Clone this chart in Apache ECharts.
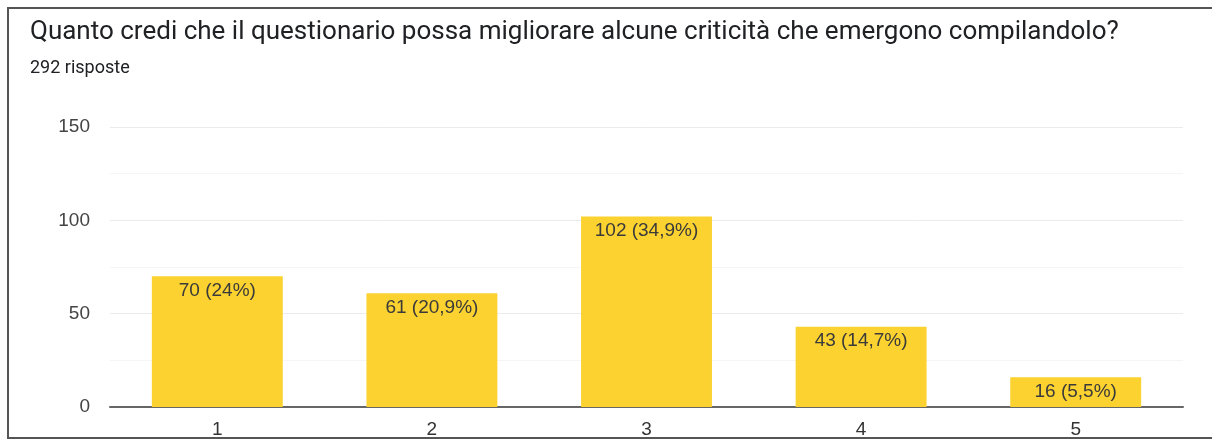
<!DOCTYPE html>
<html><head><meta charset="utf-8">
<script src="https://cdn.jsdelivr.net/npm/echarts@6/dist/echarts.min.js"></script>
<style>html,body{margin:0;padding:0;background:#fff}#c{width:1212px;height:441px}</style>
</head><body><div id="c"></div>
<script>
const categories = ['1','2','3','4','5'];
const counts = [70, 61, 102, 43, 16];
const percents = ['24%','20,9%','34,9%','14,7%','5,5%'];
const yTicks = [0, 50, 100, 150];
const titleText = 'Quanto credi che il questionario possa migliorare alcune criticità che emergono compilandolo?';
const subtitleText = '292 risposte';

const chart = echarts.init(document.getElementById('c'));
chart.setOption({
  animation: false,
  backgroundColor: '#fff',
  graphic: [{
    type: 'rect', silent: true,
    shape: {x: 8, y: 8, width: 1215, height: 430},
    style: {fill: 'none', stroke: '#555', lineWidth: 2}
  }],
  title: {
    text: titleText, subtext: subtitleText,
    left: 25, top: 14, itemGap: 14,
    textStyle: {fontFamily: 'Roboto', fontSize: 26, fontWeight: 'normal', color: '#202124'},
    subtextStyle: {fontFamily: 'Roboto', fontSize: 18, color: '#202124'}
  },
  grid: {left: 110, right: 29, top: 127, bottom: 34},
  xAxis: {
    type: 'category', data: categories,
    axisLine: {lineStyle: {color: '#666', width: 2}},
    axisTick: {show: false},
    axisLabel: {fontFamily: 'Arial', fontSize: 19, color: '#333', margin: 13}
  },
  yAxis: {
    type: 'value', min: yTicks[0], max: yTicks[yTicks.length-1], interval: 50,
    axisLine: {show: false}, axisTick: {show: false},
    axisLabel: {fontFamily: 'Arial', fontSize: 19, color: '#444', margin: 20},
    splitLine: {lineStyle: {color: '#ebebeb', width: 1}},
    minorTick: {show: false, splitNumber: 2},
    minorSplitLine: {show: true, lineStyle: {color: '#f5f5f5', width: 1}}
  },
  series: [{
    type: 'bar', data: counts, barWidth: '61%',
    itemStyle: {color: '#FBD22F'},
    label: {
      show: true, position: 'insideTop', distance: 5,
      fontFamily: 'Arial', fontSize: 19, color: '#3a3a3a',
      formatter: p => p.value + ' (' + percents[p.dataIndex] + ')'
    }
  }]
});
</script></body></html>
